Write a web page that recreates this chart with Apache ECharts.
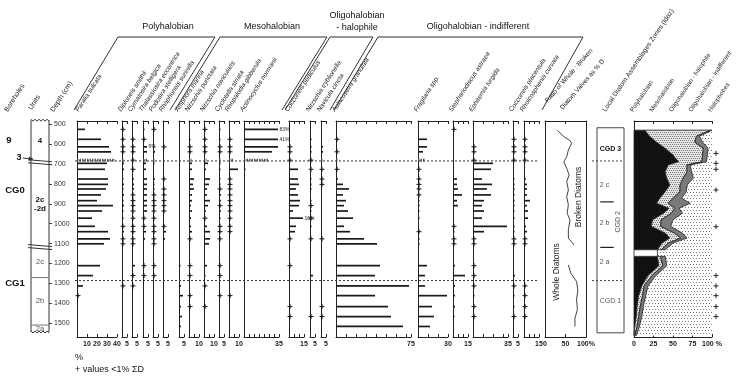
<!DOCTYPE html>
<html>
<head>
<meta charset="utf-8">
<script src="https://cdn.jsdelivr.net/npm/echarts@6/dist/echarts.min.js"></script>
<style>
  html, body { margin: 0; padding: 0; background: #fff; }
  #chart { width: 739px; height: 376px; }
</style>
</head>
<body>
<div id="chart"></div>
<script>
// ---- data ----
const depthTicks = [500, 600, 700, 800, 900, 1000, 1100, 1200, 1300, 1400, 1500];
const depths = [525, 575, 613, 638, 680, 696, 726, 775, 802, 825, 855, 884, 909, 936, 972, 1013, 1040, 1076, 1101, 1211, 1261, 1313, 1362, 1417, 1467, 1517];
const hatchedDepth = 680;
const boundaryDepths = [684, 1286];

const taxa = ["Paralia sulcata", "Diploneis smithii", "Cymatosira belgica", "Thalassiosira eccentrica", "Podosira stelligera",
  "Rhaphoneis surirella", "Amphora marina", "Nitzschia punctata", "Nitzschia navicularis", "Cyclotella striata",
  "Rhopalodia gibberula", "Actinocyclus normanii", "Cocconeis pediculus", "Nitzschia tryblionella", "Navicula cincta",
  "Aulacoseira granulata", "Fragilaria spp.", "Stephanodiscus astraea", "Ephitemia turgida", "Cocconeis placentula",
  "Rhoicosphenia curvata"];
const scaleMax = [40, 5, 5, 5, 5, 5, 5, 10, 10, 5, 10, 35, 15, 5, 5, 75, 30, 15, 35, 5, 15];
const scaleLabels = [[10, 20, 30, 40], [5], [5], [5], [5], [5], [5], [10], [10], [5], [10], [35], [15], [5], [5], [75], [30], [15], [35], [5], [15]];

// '+' = present below 1 %
const P = '+', _ = null;
const counts = [
  [8, 24, 32, 34, 38, 30, 28, 31, 31, 29, 24, 20, 36, 25, 15, 18, 31, 33, 27, 23, 16, 6, P, _, _, _],
  [P, P, P, P, 2, 2, 2, 1, 2, 1, 2, 1, 2, 1, 1, P, 2, P, P, _, _, P, _, _, _, _],
  [_, P, P, P, P, _, P, 2, 2, 2, P, P, P, P, P, P, P, P, P, 3, P, P, _, _, _, _],
  [1, P, 6, 5, 4, 3, 3, 5, 4, 5, 5, 5, 4, 5, P, P, 3, 2, _, P, P, _, _, _, _, _],
  [P, _, 1, 2, 1, 1, _, 2, 1, 1, P, P, P, P, P, P, P, P, P, P, P, _, _, _, _, _],
  [_, _, P, _, _, _, _, P, _, P, P, P, P, P, _, P, 3, 2, _, _, _, _, _, _, _, _],
  [_, _, _, _, _, _, _, _, _, _, _, _, _, _, _, _, _, _, _, 1, _, 2, 4, 2, 3, 2],
  [_, 1, P, P, 3, 3, 3, 5, 4, 5, 3, 3, 2, 3, 2, 2, 3, P, _, P, P, _, P, P, _, _],
  [P, P, P, P, 3, 4, 2, 6, 5, 3, 3, 6, 4, 2, P, 3, 6, 6, 5, 3, 1, P, _, P, _, _],
  [1, 1, P, P, 1, 1, 1, 1, 1, P, 2, 2, P, 2, 1, P, P, P, _, P, P, _, P, _, _, _],
  [_, P, P, P, 4, _, 10, P, P, P, P, P, P, P, P, P, P, _, _, _, _, _, P, _, _, _],
  [83, 41, 34, 28, 24, _, 1, _, _, _, _, _, _, _, _, _, _, _, _, _, _, _, _, _, _, _],
  [_, _, P, P, P, _, 9, 9, 10, 7, 9, 11, 10, 4, 16, 7, 6, P, _, P, _, _, _, P, P, _],
  [_, 1, 1, 1, P, _, P, 1, 1, 1, _, 1, P, 1, P, 1, _, P, _, _, 3, _, _, _, P, _],
  [_, _, 2, 2, 1, _, P, P, P, _, _, _, _, _, _, _, _, P, _, _, _, _, _, P, P, _],
  [_, P, _, P, 1, _, P, 2, 7, 13, 7, 10, 8, 12, 17, 8, 14, 28, 41, 44, 39, 73, 39, 52, 55, 67],
  [_, 9, 9, 5, 7, _, P, P, P, P, P, 1, 1, 1, 1, _, P, 1, 1, 9, 7, 7, 29, 14, 16, 12],
  [P, _, _, _, _, _, _, 4, 4, 5, 9, 4, 5, _, _, P, 1, P, P, 2, 12, 2, 2, 2, 1, _],
  [_, _, P, P, P, 20, 18, 9, 19, 14, 18, 11, 9, 11, 9, 35, 11, P, P, P, P, P, 1, P, P, _],
  [_, P, P, P, P, _, _, 1, 1, 1, 1, 1, 1, 1, 1, 1, 1, P, P, _, 2, P, 1, 1, P, _],
  [_, P, P, P, P, _, _, 2, 3, 3, 3, 6, 3, 4, 4, 2, 3, P, P, _, _, P, P, P, P, _]
];

// ratio of whole : broken valves (% whole)
const ratioDepth = [529, 562, 580, 595, 629, 663, 688, 721, 755, 788, 830, 864, 905, 947, 981, 1031, 1073, 1107, 1160, 1207, 1249, 1291, 1333, 1383, 1433, 1475, 1517];
const ratioWhole = [30, 46, 60, 65, 57, 53, 46, 53, 59, 53, 57, 53, 57, 54, 61, 57, 57, 71, null, 57, 63, 77, 80, 77, 79, 73, 73];

// ecological group sums (%)
const sumDepth = [529, 560, 590, 620, 654, 688, 704, 738, 771, 805, 839, 872, 897, 922, 947, 980, 1013, 1047, 1072, 1097, 1131, 1148, 1164, 1211, 1261, 1313, 1362, 1417, 1467, 1517, 1562];
const sumPoly = [14, 20, 29, 40, 50, 57, 44, 40, 42, 46, 40, 33, 29, 45, 38, 24, 22, 40, 46, 36, 30, null, 30, 32, 18, 10, 6, 4, 3, 1, 0];
const sumMeso = [84, 60, 49, 49, 38, 30, 24, 28, 21, 13, 19, 17, 15, 7, 10, 11, 12, 12, 14, 8, 5, null, 4, 5, 5, 3, 5, 4, 3, 3, 1];
const sumHalophile = [2, 4, 10, 6, 6, 6, 4, 6, 13, 9, 8, 11, 28, 6, 14, 15, 13, 10, 8, 6, 5, null, 6, 5, 5, 5, 4, 4, 4, 3, 2];
const halophobeDepth = [646, 696, 726, 830, 1015, 1261, 1313, 1362, 1417, 1467];
const hiatus = [1131, 1164];

// zones and units
const zoneBox = [517, 1549];
const zoneNames = ['CGD 3', '2 c', '2 b', '2 a', 'CGD 1'];
const zoneLabelDepth = [625, 805, 996, 1195, 1391];
const subZoneDepth = [890, 1119];
const unitNames = ['4', '2c\n-2d', '2c', '2b', '2a'];
const unitBounds = [479, 688, 1115, 1271, 1510, 1545];
const unitEdges = ['wave', 'break', 'break', 'line', 'line', 'wave'];

// ---- layout ----
const FONT = 'Liberation Sans, Arial, sans-serif';
const TOP = 121, HEIGHT = 216, Y_MIN = 483, Y_MAX = 1570;
const colLeft = [77, 122, 132, 143, 153, 163, 179, 189, 204, 219, 229, 244, 289, 310, 321, 336, 418, 453, 473, 513, 524];
const INK = '#222';

const grids = [], xAxes = [], yAxes = [], series = [];

function addGrid(left, width) {
  grids.push({ left: left, top: TOP, width: width, height: HEIGHT, containLabel: false, outerBoundsMode: 'none' });
  return grids.length - 1;
}
function addY(g, extra) {
  yAxes.push(Object.assign({
    gridIndex: g, type: 'value', min: Y_MIN, max: Y_MAX, inverse: true,
    axisLine: { show: false, onZero: false }, axisTick: { show: false },
    axisLabel: { show: false }, splitLine: { show: false }
  }, extra || {}));
  return yAxes.length - 1;
}
function hiddenX(g) {
  xAxes.push({ gridIndex: g, type: 'value', min: 0, max: 1, show: false });
  return xAxes.length - 1;
}
function scaleAxis(g, max, step, labels, pos, fmt) {
  xAxes.push({
    gridIndex: g, type: 'value', min: 0, max: max, interval: step, position: pos,
    axisLine: { show: true, onZero: false, lineStyle: { color: INK, width: 1 } },
    axisTick: { show: true, inside: true, length: 3, lineStyle: { color: INK } },
    axisLabel: {
      show: pos === 'bottom', margin: 4, fontSize: 7, fontWeight: 'bold', color: INK, fontFamily: FONT,
      showMinLabel: true, showMaxLabel: true,
      formatter: v => labels.indexOf(v) >= 0 ? (fmt ? fmt(v) : String(v)) : ''
    },
    splitLine: { show: false }
  });
  return xAxes.length - 1;
}

function plusShape(x, y, color) {
  const s = { stroke: color || '#111', lineWidth: 1 };
  return {
    type: 'group', children: [
      { type: 'line', shape: { x1: x - 2.5, y1: y, x2: x + 2.5, y2: y }, style: s },
      { type: 'line', shape: { x1: x, y1: y - 2.5, x2: x, y2: y + 2.5 }, style: s }
    ]
  };
}

function renderTaxon(params, api) {
  const v = api.value(0), d = api.value(1), flag = api.value(2), real = api.value(3);
  const p0 = api.coord([0, d]);
  if (flag === 1) return plusShape(p0[0] + 1, p0[1]);
  const p1 = api.coord([v, d]);
  const kids = [{
    type: 'line',
    shape: { x1: p0[0], y1: p0[1], x2: Math.max(p1[0], p0[0] + 1.5), y2: p1[1] },
    style: flag === 2 ? { stroke: '#555', lineWidth: 2.6, lineDash: [1.5, 1] } : { stroke: '#1a1a1a', lineWidth: 1.7 }
  }];
  if (real > v + 1) {
    kids.push({ type: 'text', x: p1[0] + 1.5, y: p1[1], style: { text: real + '%', fontSize: 5, fontFamily: FONT, fill: INK, align: 'left', verticalAlign: 'middle' } });
  }
  return { type: 'group', children: kids };
}

// units column + depth axis
(function () {
  const g = addGrid(31, 18);
  const x = hiddenX(g);
  const y = addY(g, {
    position: 'right',
    axisTick: { show: true, inside: false, length: 3, lineStyle: { color: '#444' }, customValues: depthTicks },
    axisLabel: { show: true, margin: 5, fontSize: 7, color: '#333', fontFamily: FONT, customValues: depthTicks, formatter: v => String(v) }
  });
  const st = { stroke: '#333', lineWidth: 1, fill: null };
  function edge(kind, d, api) {
    const l = api.coord([0, d]), r = api.coord([1, d]);
    if (kind === 'wave') {
      const pts = [];
      for (let xx = l[0]; xx <= r[0] + 0.1; xx += 2) pts.push([xx, l[1] + ((Math.round((xx - l[0]) / 2) % 2) ? 1 : -1)]);
      return [{ type: 'polyline', shape: { points: pts }, style: st }];
    }
    if (kind === 'break') {
      return [
        { type: 'line', shape: { x1: l[0] - 3, y1: l[1] - 2, x2: r[0] + 3, y2: l[1] }, style: st },
        { type: 'line', shape: { x1: l[0] - 3, y1: l[1] + 1, x2: r[0] + 3, y2: l[1] + 3 }, style: st }
      ];
    }
    return [{ type: 'line', shape: { x1: l[0], y1: l[1], x2: r[0], y2: r[1] }, style: { stroke: '#777', lineWidth: 1 } }];
  }
  series.push({
    type: 'custom', xAxisIndex: x, yAxisIndex: y, silent: true, clip: false,
    data: unitNames.map((n, i) => [0.5, (unitBounds[i] + unitBounds[i + 1]) / 2, i]),
    renderItem: function (params, api) {
      const i = params.dataIndex;
      const t = unitBounds[i], b = unitBounds[i + 1];
      const tl = api.coord([0, t]), br = api.coord([1, b]);
      const bold = i < 2;
      let kids = [
        { type: 'line', shape: { x1: tl[0], y1: tl[1], x2: tl[0], y2: br[1] }, style: st },
        { type: 'line', shape: { x1: br[0], y1: tl[1], x2: br[0], y2: br[1] }, style: st },
        { type: 'text', x: (tl[0] + br[0]) / 2, y: (tl[1] + br[1]) / 2, style: {
          text: unitNames[i], fontSize: bold ? 8 : 7.5, fontWeight: bold ? 'bold' : 'normal', fontFamily: FONT,
          fill: bold ? '#111' : '#555', align: 'center', verticalAlign: 'middle', lineHeight: 9 } }
      ];
      if (i === 0) kids = kids.concat(edge(unitEdges[0], t, api));
      kids = kids.concat(edge(unitEdges[i + 1], b, api));
      return { type: 'group', children: kids };
    }
  });
})();

// taxon columns
taxa.forEach((name, i) => {
  const g = addGrid(colLeft[i], scaleMax[i]);
  const step = (i === 11 || scaleMax[i] <= 15) ? 5 : 10;
  const xb = scaleAxis(g, scaleMax[i], step, scaleLabels[i], 'bottom');
  scaleAxis(g, scaleMax[i], step, [], 'top');
  const y = addY(g, { axisLine: { show: true, onZero: false, lineStyle: { color: INK, width: 1 } } });
  const data = [];
  counts[i].forEach((v, r) => {
    if (v === null) return;
    const d = depths[r];
    if (v === P) data.push([0, d, 1, 0]);
    else data.push([Math.min(v, scaleMax[i] - 1), d, d === hatchedDepth ? 2 : 0, v]);
  });
  series.push({ type: 'custom', xAxisIndex: xb, yAxisIndex: y, data: data, renderItem: renderTaxon, clip: false, silent: true });
});

// dashed zone boundaries across the taxa
(function () {
  const g = addGrid(75, 462);
  const x = hiddenX(g), y = addY(g);
  series.push({
    type: 'custom', xAxisIndex: x, yAxisIndex: y, silent: true, clip: false,
    data: boundaryDepths.map(d => [0, d]),
    renderItem: (params, api) => {
      const a = api.coord([0, api.value(1)]), b = api.coord([1, api.value(1)]);
      return { type: 'line', shape: { x1: a[0], y1: a[1], x2: b[0], y2: b[1] }, style: { stroke: '#333', lineWidth: 1, lineDash: [2, 2] } };
    }
  });
})();

// ratio whole : broken
(function () {
  const g = addGrid(545, 41);
  const xb = scaleAxis(g, 100, 50, [0, 50, 100], 'bottom', v => v === 100 ? '100%' : String(v));
  scaleAxis(g, 100, 50, [], 'top');
  const y = addY(g, { axisLine: { show: true, onZero: false, lineStyle: { color: INK } } });
  addY(g, { position: 'right', axisLine: { show: true, onZero: false, lineStyle: { color: INK } } });
  let seg = [];
  const segs = [seg];
  ratioWhole.forEach((v, i) => {
    if (v === null) { seg = []; segs.push(seg); return; }
    seg.push([v, ratioDepth[i]]);
  });
  segs.forEach(s => series.push({
    type: 'line', xAxisIndex: xb, yAxisIndex: y, data: s, showSymbol: false, silent: true,
    lineStyle: { color: '#444', width: 1 }
  }));
})();

// zones
(function () {
  const g = addGrid(597, 27);
  const x = hiddenX(g), y = addY(g);
  series.push({
    type: 'custom', xAxisIndex: x, yAxisIndex: y, silent: true, clip: false,
    data: [[0.5, (zoneBox[0] + zoneBox[1]) / 2]],
    renderItem: (params, api) => {
      const tl = api.coord([0, zoneBox[0]]), br = api.coord([1, zoneBox[1]]);
      const kids = [{ type: 'rect', shape: { x: tl[0], y: tl[1], width: br[0] - tl[0], height: br[1] - tl[1] }, style: { stroke: '#444', fill: null, lineWidth: 1 } }];
      zoneNames.forEach((n, i) => {
        const p = api.coord([0.5, zoneLabelDepth[i]]);
        const major = n.indexOf('CGD') === 0;
        kids.push({ type: 'text', x: p[0] + (major ? 0 : -6), y: p[1], style: {
          text: n, fontSize: 7, fontWeight: i === 0 ? 'bold' : 'normal', fontFamily: FONT,
          fill: i === 0 ? '#111' : '#555', align: 'center', verticalAlign: 'middle' } });
      });
      const c2 = api.coord([0.78, 990]);
      kids.push({ type: 'text', x: c2[0], y: c2[1], rotation: Math.PI / 2, style: { text: 'CGD 2', fontSize: 7, fontFamily: FONT, fill: '#555', align: 'center', verticalAlign: 'middle' } });
      subZoneDepth.forEach(d => {
        const a = api.coord([0.12, d]), b = api.coord([0.62, d]);
        kids.push({ type: 'line', shape: { x1: a[0], y1: a[1], x2: b[0], y2: b[1] }, style: { stroke: '#222', lineWidth: 1.2 } });
      });
      boundaryDepths.forEach(d => {
        const a = api.coord([0, d]), b = api.coord([1, d]);
        kids.push({ type: 'line', shape: { x1: a[0] - 5, y1: a[1], x2: b[0], y2: b[1] }, style: { stroke: '#444', lineWidth: 1, lineDash: [2, 2] } });
      });
      return { type: 'group', children: kids };
    }
  });
})();

// ecological summary
function dotPattern(bg, dot, step, offset) {
  const c = document.createElement('canvas');
  c.width = c.height = step * 2;
  const ctx = c.getContext('2d');
  ctx.fillStyle = bg; ctx.fillRect(0, 0, step * 2, step * 2);
  ctx.fillStyle = dot;
  ctx.fillRect(0, 0, 1, 1);
  ctx.fillRect(offset, step, 1, 1);
  ctx.fillRect(step, 0, 1, 1);
  ctx.fillRect(step + offset, step, 1, 1);
  return { image: c, repeat: 'repeat' };
}
(function () {
  const g = addGrid(634, 78);
  const xb = scaleAxis(g, 100, 25, [0, 25, 50, 75, 100], 'bottom', v => v === 100 ? '100 %' : String(v));
  scaleAxis(g, 100, 25, [], 'top');
  const y = addY(g, { axisLine: { show: true, onZero: false, lineStyle: { color: INK } } });

  // cumulative boundaries, split where the record is missing
  const segments = [];
  let cur = null;
  sumDepth.forEach((d, i) => {
    if (sumPoly[i] === null) { cur = null; return; }
    if (!cur) { cur = []; segments.push(cur); }
    const c1 = sumPoly[i], c2 = c1 + sumMeso[i], c3 = c2 + sumHalophile[i];
    cur.push({ d: d, c: [0, c1, c2, c3] });
  });
  const fills = [
    '#111',
    dotPattern('#e6e6e6', '#777', 2, 1),
    '#7a7a7a'
  ];
  const polys = [];
  // background: oligohalobian - indifferent (dotted)
  polys.push({ pts: [[0, sumDepth[0]], [100, sumDepth[0]], [100, sumDepth[sumDepth.length - 1]], [0, sumDepth[sumDepth.length - 1]]],
    fill: dotPattern('#ffffff', '#777', 3, 1), stroke: null });
  segments.forEach(s => {
    for (let k = 0; k < 3; k++) {
      const left = s.map(p => [p.c[k], p.d]);
      const right = s.map(p => [p.c[k + 1], p.d]).reverse();
      polys.push({ pts: left.concat(right), fill: fills[k], stroke: '#222' });
    }
  });
  polys.push({ pts: [[0, hiatus[0]], [sumPoly[sumDepth.indexOf(hiatus[0])], hiatus[0]], [sumPoly[sumDepth.indexOf(hiatus[0])], hiatus[1]], [0, hiatus[1]]],
    fill: '#fff', stroke: '#222' });

  series.push({
    type: 'custom', xAxisIndex: xb, yAxisIndex: y, silent: true, clip: false,
    data: polys.map((p, i) => [50, p.pts[0][1], i]),
    renderItem: (params, api) => {
      const p = polys[params.dataIndex];
      return { type: 'polygon', shape: { points: p.pts.map(q => api.coord(q)) },
        style: { fill: p.fill, stroke: p.stroke, lineWidth: 0.8 } };
    }
  });
  series.push({
    type: 'custom', xAxisIndex: xb, yAxisIndex: y, silent: true, clip: false,
    data: halophobeDepth.map(d => [100, d]),
    renderItem: (params, api) => {
      const p = api.coord([100, api.value(1)]);
      return plusShape(p[0] + 4, p[1], '#222');
    }
  });
})();

// ---- header text and brackets ----
const ANG = 57 * Math.PI / 180;
function rot(x, y, text, size, italic, angle) {
  return { type: 'text', x: x, y: y, rotation: angle === undefined ? ANG : angle, silent: true,
    style: { text: text, fontSize: size, fontStyle: italic ? 'italic' : 'normal', fontFamily: FONT, fill: INK, align: 'left', verticalAlign: 'bottom' } };
}
function txt(x, y, text, size, bold, align) {
  return { type: 'text', x: x, y: y, silent: true,
    style: { text: text, fontSize: size, fontWeight: bold ? 'bold' : 'normal', fontFamily: FONT, fill: '#111', align: align || 'center', verticalAlign: 'middle' } };
}
function seg(pts) {
  return { type: 'polyline', silent: true, shape: { points: pts }, style: { stroke: '#333', lineWidth: 1, fill: null } };
}

const graphic = [];
taxa.forEach((n, i) => graphic.push(rot(colLeft[i] + (i === 0 ? 3 : 0.5), 113, n, 6.5, true)));
graphic.push(rot(549, 104, 'Ratio of Whole : Broken', 6.5, false, 49 * Math.PI / 180));
graphic.push(rot(564, 111, 'Diatom Valves as % D', 6.5, false, 49 * Math.PI / 180));
graphic.push(rot(607, 113, 'Local Diatom Assemblages Zones (ldaz)', 6.8, false, 56 * Math.PI / 180));
['Polyhalobian', 'Mesohalobian', 'Oligohalobian - halophile', 'Oligohalobian - indifferent', 'Halophobes']
  .forEach((n, i) => graphic.push(rot(634 + i * 19.5, 113, n, 6.3, false, 56 * Math.PI / 180)));
graphic.push(rot(9, 113, 'Boreholes', 7, false));
graphic.push(rot(33, 111, 'Units', 7, false));
graphic.push(rot(55, 113, 'Depth (cm)', 7, false));

graphic.push(txt(168, 27, 'Polyhalobian', 9));
graphic.push(txt(272, 27, 'Mesohalobian', 9));
graphic.push(txt(357, 16, 'Oligohalobian', 9));
graphic.push(txt(357, 28, '- halophile', 9));
graphic.push(txt(478, 27, 'Oligohalobian - indifferent', 9));
graphic.push(seg([[74, 110], [118, 37], [215, 37], [170, 110]]));
graphic.push(seg([[175, 110], [220, 37], [327, 37], [282, 110]]));
graphic.push(seg([[285, 110], [330, 37], [373, 37], [330, 110]]));
graphic.push(seg([[334, 110], [378, 37], [583, 37], [542, 110]]));

graphic.push(txt(9, 140, '9', 9.5, true));
graphic.push(txt(19, 158, '3', 9, true));
graphic.push(seg([[23, 158], [33, 159]]));
graphic.push({ type: 'polygon', silent: true, shape: { points: [[33, 159], [29, 156.5], [29, 161]] }, style: { fill: '#333' } });
graphic.push(txt(15, 190, 'CG0', 9.5, true));
graphic.push(txt(15, 283, 'CG1', 9.5, true));

graphic.push({ type: 'text', x: 557, y: 272, rotation: Math.PI / 2, silent: true, style: { text: 'Whole Diatoms', fontSize: 8.5, fontFamily: FONT, fill: '#222', align: 'center', verticalAlign: 'middle' } });
graphic.push({ type: 'text', x: 579, y: 197, rotation: Math.PI / 2, silent: true, style: { text: 'Broken Diatoms', fontSize: 8.5, fontFamily: FONT, fill: '#222', align: 'center', verticalAlign: 'middle' } });

graphic.push(txt(75, 358, '%', 9, false, 'left'));
graphic.push(txt(75, 370, '+ values <1% \u03A3D', 9, false, 'left'));

const chart = echarts.init(document.getElementById('chart'), null, { renderer: 'canvas' });
chart.setOption({
  animation: false,
  backgroundColor: '#fff',
  grid: grids,
  xAxis: xAxes,
  yAxis: yAxes,
  series: series,
  graphic: graphic
});
</script>
</body>
</html>
